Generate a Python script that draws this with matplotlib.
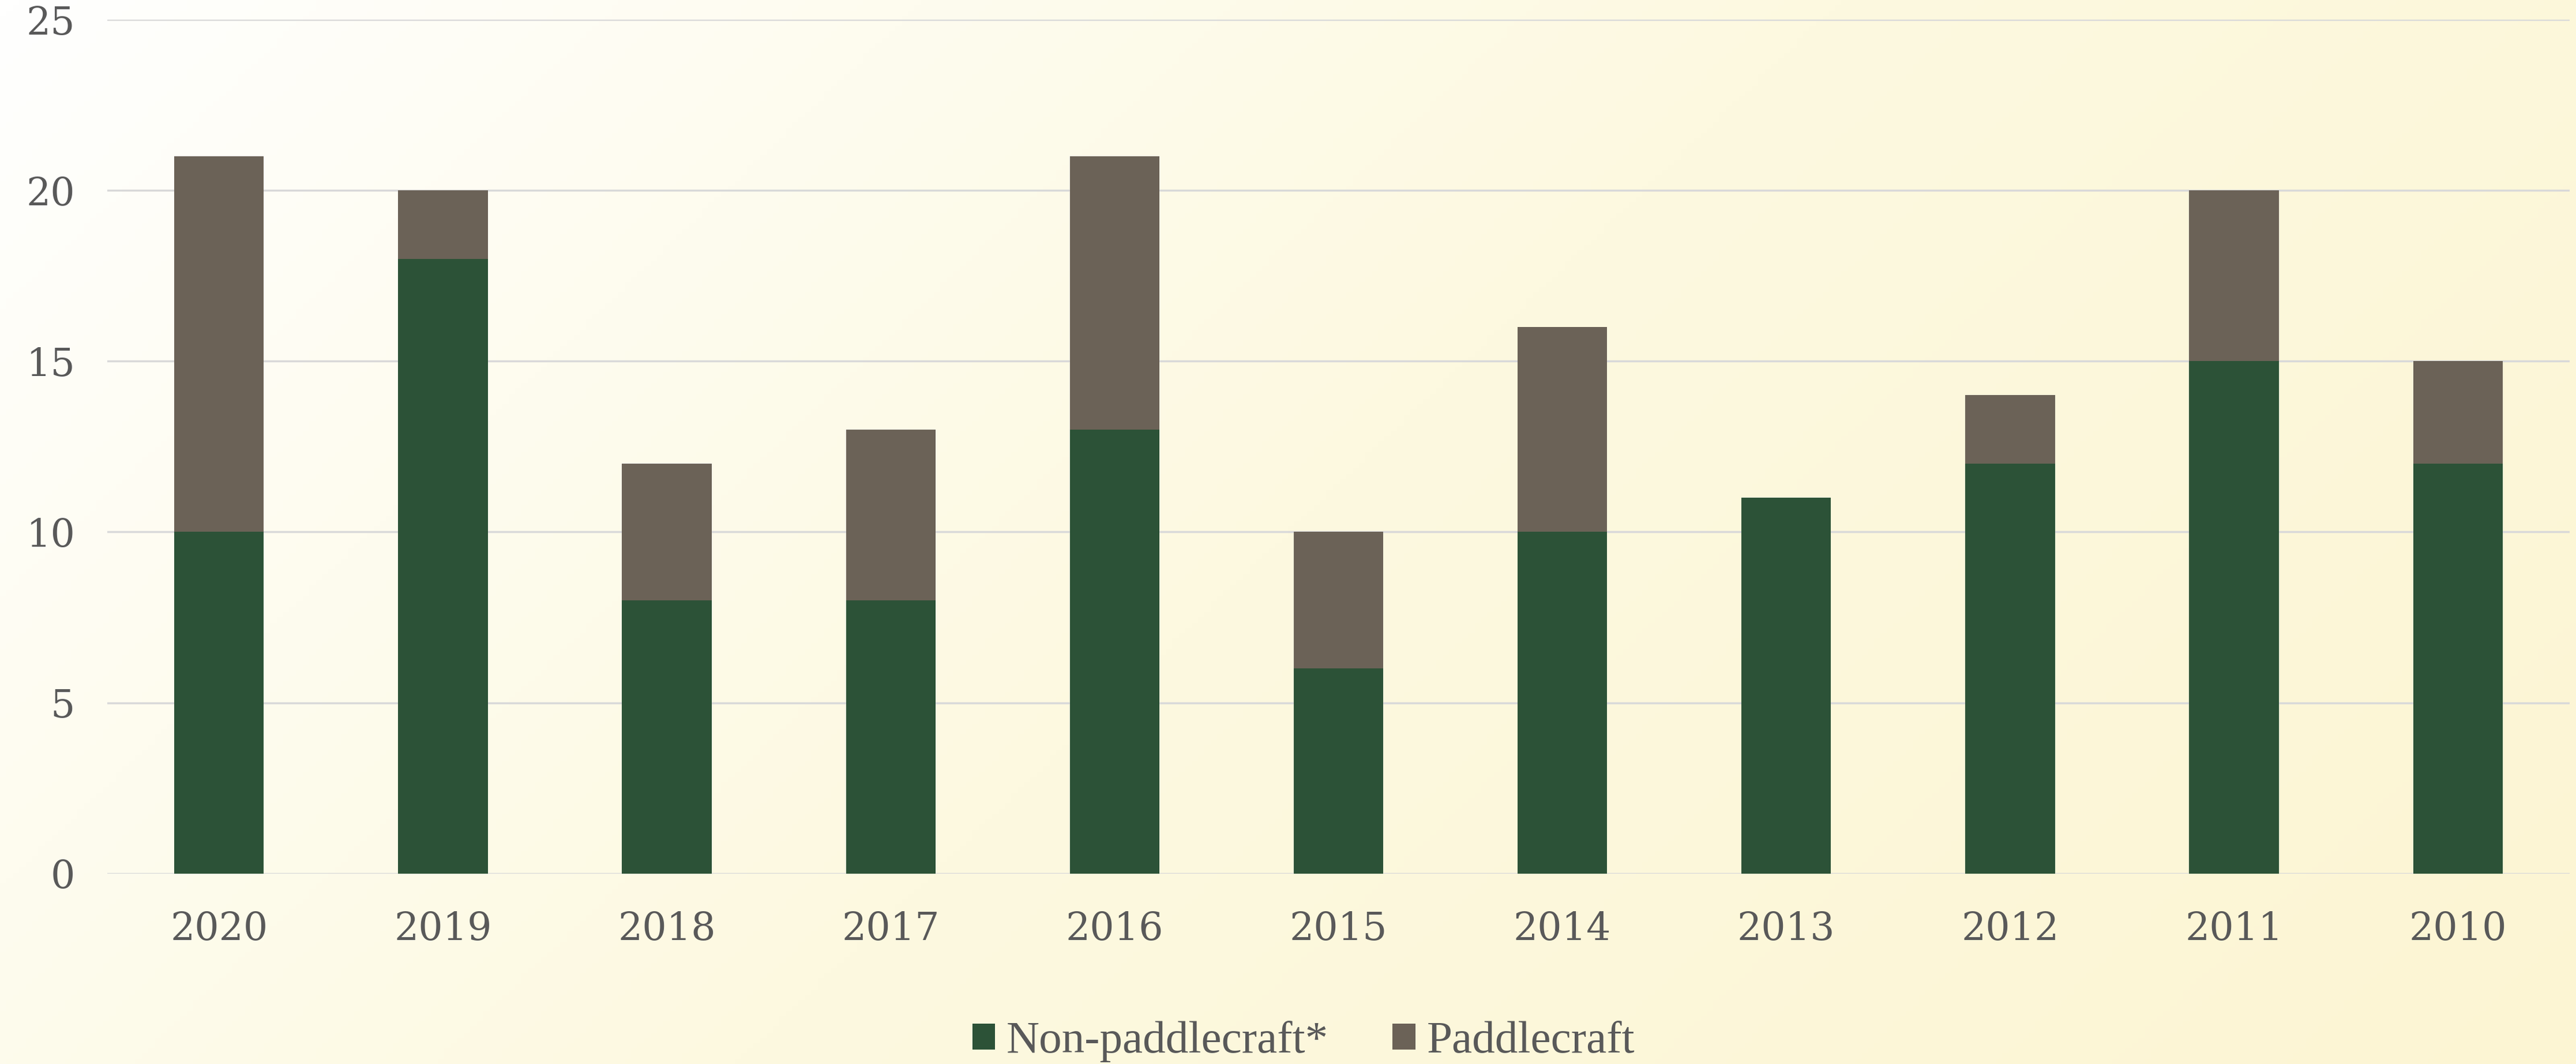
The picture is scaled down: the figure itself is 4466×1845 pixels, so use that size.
import numpy as np
import matplotlib.pyplot as plt
from matplotlib.colors import LinearSegmentedColormap

years = ["2020", "2019", "2018", "2017", "2016", "2015", "2014", "2013", "2012", "2011", "2010"]
non_paddle = [10, 18, 8, 8, 13, 6, 10, 11, 12, 15, 12]
paddle = [11, 2, 4, 5, 8, 4, 6, 0, 2, 5, 3]

green = "#2c5237"
brown = "#6b6257"
text_col = "#595959"

plt.rcParams["font.family"] = ["DejaVu Serif"]

fig = plt.figure(figsize=(44.66, 18.45), dpi=100)

# diagonal background gradient, white top-left -> pale yellow bottom-right
bg = fig.add_axes([0, 0, 1, 1], zorder=-10)
yy, xx = np.mgrid[0:1:200j, 0:1:400j]
grad = (xx * 0.7 + yy * 0.3)
cmap = LinearSegmentedColormap.from_list("bg", ["#fffffe", "#fdf9e0", "#fcf5d3"])
bg.imshow(grad, cmap=cmap, aspect="auto", extent=[0, 1, 0, 1], origin="upper")
bg.axis("off")

ax = fig.add_axes([0.0416, 0.179, 0.956, 0.8026])
ax.patch.set_alpha(0)

x = np.arange(len(years))
w = 0.40
ax.bar(x, non_paddle, w, color=green, label="Non-paddlecraft*", zorder=3)
ax.bar(x, paddle, w, bottom=non_paddle, color=brown, label="Paddlecraft", zorder=3)

ax.set_xlim(-0.5, len(years) - 0.5)
ax.set_ylim(0, 25)
ax.set_yticks([0, 5, 10, 15, 20, 25])
ax.set_xticks(x)
ax.set_xticklabels(years)
ax.yaxis.grid(True, color="#d9d9d9", linewidth=2.5, zorder=0)
ax.set_axisbelow(True)
for s in ax.spines.values():
    s.set_visible(False)
ax.tick_params(axis="both", length=0, labelsize=48, colors=text_col)
ax.tick_params(axis="y", pad=40)
ax.tick_params(axis="x", pad=46)

leg = fig.legend(loc="center", bbox_to_anchor=(0.506, 0.021), ncol=2, frameon=False,
                 prop={"family": "Liberation Serif", "size": 57},
                 handlelength=0.5, handleheight=0.5, handletextpad=0.25,
                 columnspacing=1.4)
for t in leg.get_texts():
    t.set_color(text_col)

fig.savefig("out.png", dpi=100)
